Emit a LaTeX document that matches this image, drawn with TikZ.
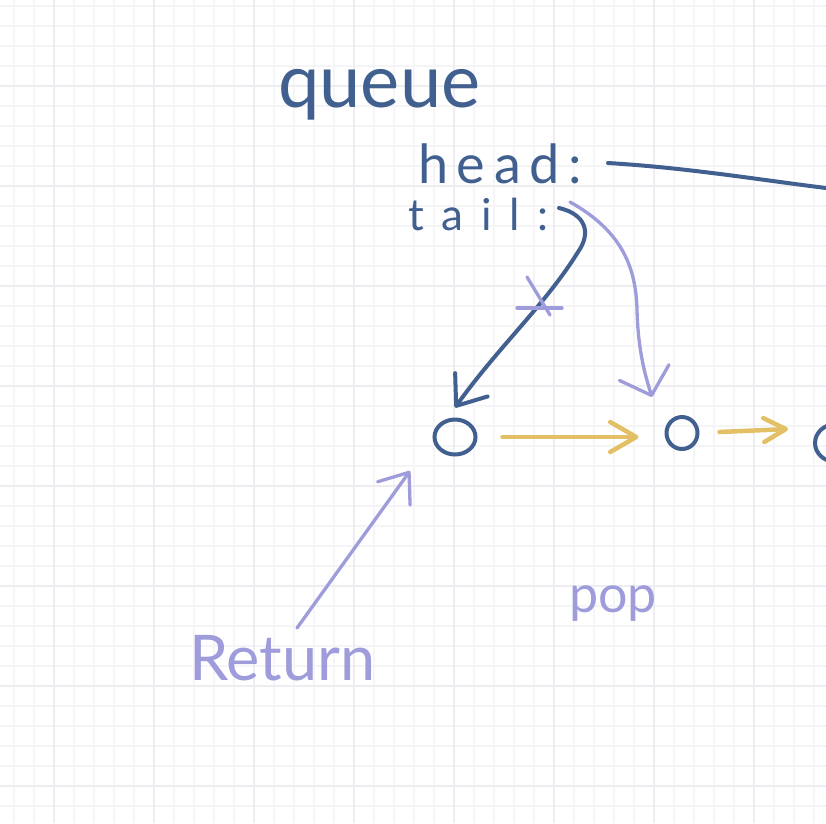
\documentclass[tikz,border=0pt]{standalone}
\usepackage{fontspec}
\setmainfont{Lato}
\usetikzlibrary{arrows.meta,shapes.geometric,calc}
\definecolor{inkblue}{HTML}{41608F}
\definecolor{inkpurple}{HTML}{9E9CDA}
\definecolor{inkyellow}{HTML}{E3C066}
\definecolor{gridminor}{HTML}{F5F5F7}
\definecolor{gridmajor}{HTML}{EEEEF2}
\begin{document}
\begin{tikzpicture}[x=1pt,y=-1pt,
  bluetext/.style={text=inkblue, inner sep=0pt, anchor=base west},
  purpletext/.style={text=inkpurple, inner sep=0pt, anchor=base west},
  item/.style={ellipse, draw=inkblue, line width=4pt, inner sep=0pt},
  blueline/.style={draw=inkblue, line width=4pt, line cap=round, line join=round},
  purpleline/.style={draw=inkpurple, line width=3.3pt, line cap=round, line join=round},
  yellowline/.style={draw=inkyellow, line width=4.5pt, line cap=round, line join=round},
  minorgrid/.style={draw=gridminor, line width=1.1pt},
  majorgrid/.style={draw=gridmajor, line width=2pt}]
\useasboundingbox (0,0) rectangle (826,823);
\fill[white] (0,0) rectangle (826,823);
\begin{scope}
\clip (0,0) rectangle (826,823);
\foreach \x in {14,34,...,826} \draw[minorgrid] (\x,0) -- (\x,823);
\foreach \y in {6,26,...,823} \draw[minorgrid] (0,\y) -- (826,\y);
\foreach \x in {54,154,...,826} \draw[majorgrid] (\x,0) -- (\x,823);
\foreach \y in {86,186,...,823} \draw[majorgrid] (0,\y) -- (826,\y);

% texts
\node[bluetext, font=\fontsize{74}{74}\selectfont] (queue) at (278,107) {queue};
\node[bluetext, font=\fontsize{54}{54}\selectfont\addfontfeature{LetterSpace=16}] (head) at (418,183) {head:};
\node[bluetext, font=\fontsize{44}{44}\selectfont\addfontfeature{LetterSpace=40}] (tail) at (408,230) {tail:};
\node[purpletext, font=\fontsize{63}{63}\selectfont] (ret) at (189,680) {Return};
\node[purpletext, font=\fontsize{52}{52}\selectfont] (pop) at (569,612) {pop};

% list items
\node[item, minimum width=41pt, minimum height=35pt] (n1) at (455,437) {};
\node[item, minimum width=31pt, minimum height=32pt] (n2) at (682,433) {};
\node[item, minimum width=42pt, minimum height=38pt] (n3) at (836,443) {};

% yellow next pointers
\draw[yellowline, -{Straight Barb[length=26pt,width=30pt,round]}]
  ($(n1.east)+(25,0)$) -- ($(n2.west)+(-26,4)$);
\draw[yellowline, -{Straight Barb[length=22pt,width=24pt,round]}]
  ($(n2.east)+(20,-1)$) -- ($(n3.west)+(-25,-14)$);

% head pointer (goes off the right edge)
\coordinate (headend) at (834,189);
\draw[blueline] ($(head.base west)+(190,-20)$) .. controls (690,168) and (760,180) .. (headend);

% old tail pointer
\draw[blueline, -{Straight Barb[length=26pt,width=40pt,round]}]
  ($(tail.base west)+(151,-22)$) .. controls (585,214) and (592,232) .. (578,252)
  .. controls (545,305) and (500,345) .. ($(n1.north)+(0,-10)$);
% cross-out mark
\draw[purpleline] (527,277) -- (550,315);
\draw[purpleline] (517,308) -- (562,308);

% new tail pointer
\draw[purpleline, -{Straight Barb[length=24pt,width=52pt,round]}]
  ($(tail.base west)+(162,-28)$) .. controls (620,230) and (636,265) .. (637,310)
  .. controls (638,350) and (645,375) .. ($(n2.north)+(-30,-18)$);

% return arrow
\draw[purpleline, -{Straight Barb[length=26pt,width=40pt,round]}]
  ($(ret.base west)+(108,-52)$) -- ($(n1)+(-45,34)$);
\end{scope}
\end{tikzpicture}
\end{document}
